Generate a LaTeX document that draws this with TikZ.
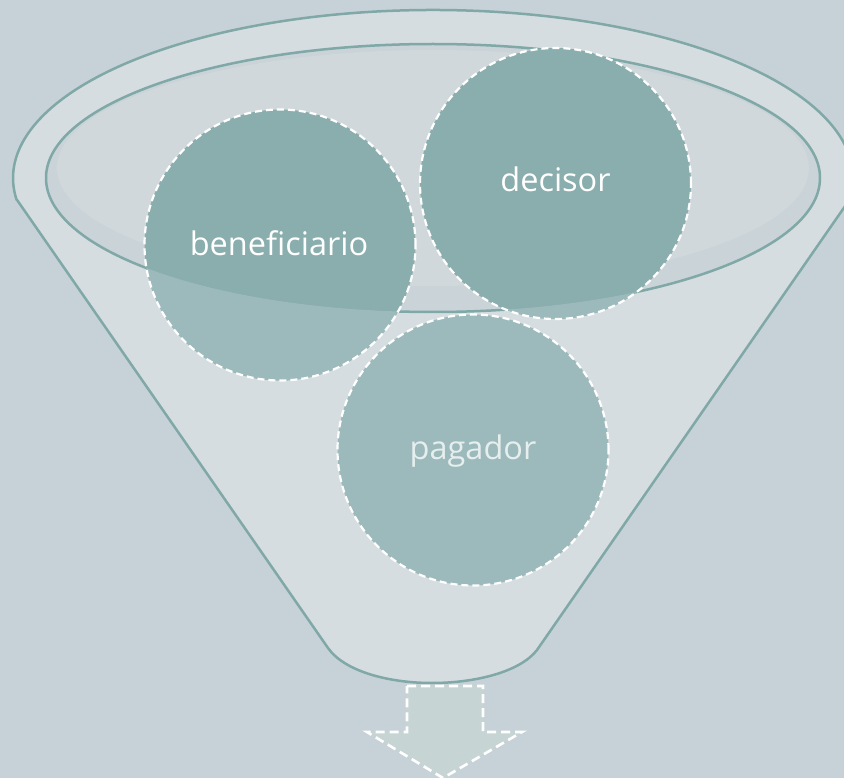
\documentclass[tikz,border=0pt]{standalone}
\usepackage{fontspec}
\setmainfont{Open Sans}
\definecolor{bgc}{HTML}{C7D2D8}
\definecolor{bodyc}{HTML}{D5DDE1}
\definecolor{innerc}{HTML}{C9D3D8}
\definecolor{innerhl}{HTML}{D0D8DC}
\definecolor{tealc}{HTML}{8AADAD}
\definecolor{tealpat}{HTML}{9CBABB}
\definecolor{linec}{HTML}{7FA8A6}
\definecolor{arrowc}{HTML}{C6D5D4}
\begin{document}
\begin{tikzpicture}[x=1pt,y=-1pt,
  funnelline/.style={draw=linec, line width=2.5pt, line join=round},
  circledash/.style={draw=white, line width=2.2pt, dash pattern=on 7pt off 4pt},
  ballshape/.style={circle, minimum size=271pt, inner sep=0pt, circledash},
  lbl/.style={text=white, font=\fontsize{32.5}{38}\selectfont, anchor=base, inner sep=0pt},
  arrowstyle/.style={fill=arrowc, draw=white, line width=2.6pt, dash pattern=on 9pt off 5pt}]
\useasboundingbox (0,0) rectangle (844,778);
\fill[bgc] (0,0) rectangle (844,778);
\coordinate (ic) at (433,178);
\coordinate (bc) at (280,245);
\coordinate (dc) at (555.5,183.5);
\coordinate (pc) at (473,450);
% output arrow
\path[arrowstyle] (407,686) -- (483,686) -- (483,732) -- (522,732) -- (443,778) -- (367,732) -- (407,732) -- cycle;
% funnel body
\path[fill=bodyc, funnelline] (17,199.9) -- (328,648) .. controls (345,672) and (390,683) .. (432,683)
  .. controls (475,683) and (520,672) .. (537,650) -- (849.4,199.9)
  arc[start angle=7.5, end angle=-187.5, x radius=420, y radius=168] -- cycle;
% opening
\path[fill=innerc] (ic) ellipse[x radius=387, y radius=134];
\path[fill=innerhl] (433,168) ellipse[x radius=376, y radius=118];
\path[funnelline] (ic) ellipse[x radius=387, y radius=134];
% balls
\fill[tealc] (bc) circle[radius=135.5];
\fill[tealc] (dc) circle[radius=135.5];
\begin{scope}
  \clip (46,178) arc[start angle=180, end angle=0, x radius=387, y radius=134] -- (844,178) -- (844,778) -- (0,778) -- (0,178) -- cycle;
  \fill[tealpat] (bc) circle[radius=135.5];
  \fill[tealpat] (dc) circle[radius=135.5];
\end{scope}
\fill[tealpat] (pc) circle[radius=135.5];
\node[ballshape] (bencircle) at (bc) {};
\node[ballshape] (deccircle) at (dc) {};
\node[ballshape] (pagcircle) at (pc) {};
% labels
\node[lbl] (ben) at (279,256) {beneficiario};
\node[lbl] (dec) at (555.5,192) {decisor};
\node[lbl, text=white!75!tealpat] (pag) at (473,459) {pagador};
\end{tikzpicture}
\end{document}
